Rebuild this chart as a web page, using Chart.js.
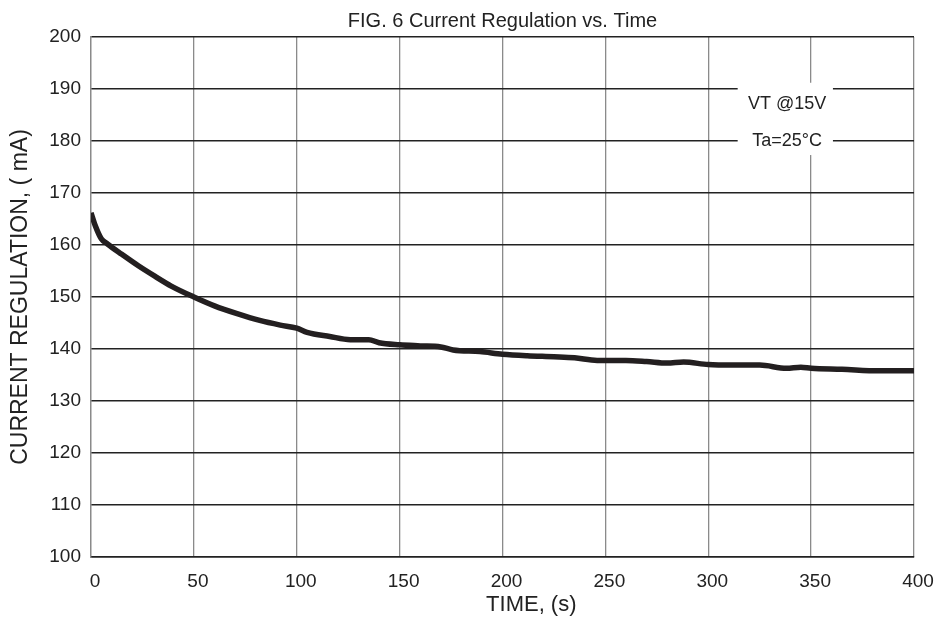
<!DOCTYPE html>
<html>
<head>
<meta charset="utf-8">
<script src="https://cdn.jsdelivr.net/npm/chart.js@4.4.0/dist/chart.umd.min.js"></script>
<style>
  html, body { margin: 0; padding: 0; background: #fff; }
  #wrap { width: 936px; height: 618px; }
</style>
</head>
<body>
<div id="wrap"><canvas id="graficoRegulacao"></canvas></div>
<script>
// valores
const tempos = [0, 2, 5, 8, 15, 23, 31, 39, 50, 60, 71, 82, 92, 100, 105, 116, 126, 135, 140, 150, 160, 170, 176, 189, 200, 212, 225, 235, 246, 260, 270, 280, 288, 300, 312, 325, 338, 345, 350, 365, 383, 400];
const correntes = [166.2, 163.8, 161.2, 160.2, 158.2, 156.0, 154.0, 152.1, 150.0, 148.3, 146.8, 145.5, 144.6, 144.0, 143.2, 142.4, 141.8, 141.8, 141.2, 140.8, 140.6, 140.4, 139.8, 139.5, 139.0, 138.7, 138.5, 138.3, 137.8, 137.8, 137.6, 137.3, 137.5, 137.0, 136.9, 136.9, 136.3, 136.5, 136.3, 136.1, 135.8, 135.8];
const notas = ['VT @15V', 'Ta=25°C'];
const tituloX = 'TIME, (s)';

const fonte = "'Liberation Sans', Arial, sans-serif";

// caixa branca com as notas (posições em unidades dos eixos)
const caixaNotas = {
    id: 'caixaNotas',
    beforeDatasetsDraw(chart) {
        const { ctx, scales: { x, y } } = chart;
        const x0 = x.getPixelForValue(314.3), x1 = x.getPixelForValue(360.6);
        const y0 = y.getPixelForValue(191.2), y1 = y.getPixelForValue(177.3);
        ctx.save();
        ctx.fillStyle = '#fff';
        ctx.fillRect(x0, y0, x1 - x0, y1 - y0);
        ctx.fillStyle = '#222';
        ctx.font = '18px ' + fonte;
        ctx.textAlign = 'center';
        ctx.textBaseline = 'middle';
        const cx = x.getPixelForValue(338.3);
        ctx.fillText(notas[0], cx, y.getPixelForValue(187.2));
        ctx.fillText(notas[1], cx, y.getPixelForValue(180));
        ctx.restore();
    },
    // título do eixo X, um pouco deslocado para a direita como no original
    afterDraw(chart) {
        const { ctx, scales: { x } } = chart;
        ctx.save();
        ctx.fillStyle = '#222';
        ctx.font = '22px ' + fonte;
        ctx.textAlign = 'center';
        ctx.textBaseline = 'middle';
        ctx.fillText(tituloX, x.getPixelForValue(214), x.bottom - 13);
        ctx.restore();
    }
};

new Chart(document.getElementById('graficoRegulacao'), {
    type: 'line',
    data: {
        datasets: [{
            label: 'Corrente',
            data: tempos.map((t, i) => ({ x: t, y: correntes[i] })),
            borderColor: '#231f20',
            borderWidth: 5.5,
            pointRadius: 0,
            cubicInterpolationMode: 'monotone',
            fill: false
        }]
    },
    options: {
        responsive: true,
        maintainAspectRatio: false,
        animation: false,
        layout: { padding: { left: 0, right: 22, top: 0, bottom: 0 } },
        plugins: {
            legend: { display: false },
            tooltip: { enabled: false },
            title: {
                display: true,
                fullSize: false,
                text: 'FIG. 6 Current Regulation vs. Time',
                color: '#222',
                font: { family: fonte, size: 20, weight: 'normal' },
                padding: { top: 9, bottom: 4 }
            }
        },
        scales: {
            x: {
                type: 'linear',
                min: 0,
                max: 400,
                afterFit: s => { s.height = 61; s.paddingLeft = 0; s.paddingRight = 0; },
                ticks: { stepSize: 50, color: '#222', padding: 13, labelOffset: 4, maxRotation: 0, font: { family: fonte, size: 19 } },
                grid: { color: '#8a8a8a', lineWidth: 1.3, drawTicks: false },
                border: { color: '#222', width: 1.5 }
            },
            y: {
                min: 100,
                max: 200,
                afterFit: s => { s.width = 91; },
                ticks: { stepSize: 10, color: '#222', padding: 10, font: { family: fonte, size: 19 } },
                grid: { color: '#222', lineWidth: 1.5, drawTicks: false },
                border: { color: '#8a8a8a', width: 1.3 },
                title: { display: true, text: 'CURRENT REGULATION, ( mA)', color: '#222', font: { family: fonte, size: 23 }, padding: { top: 7, bottom: 0 } }
            }
        }
    },
    plugins: [caixaNotas]
});
</script>
</body>
</html>
